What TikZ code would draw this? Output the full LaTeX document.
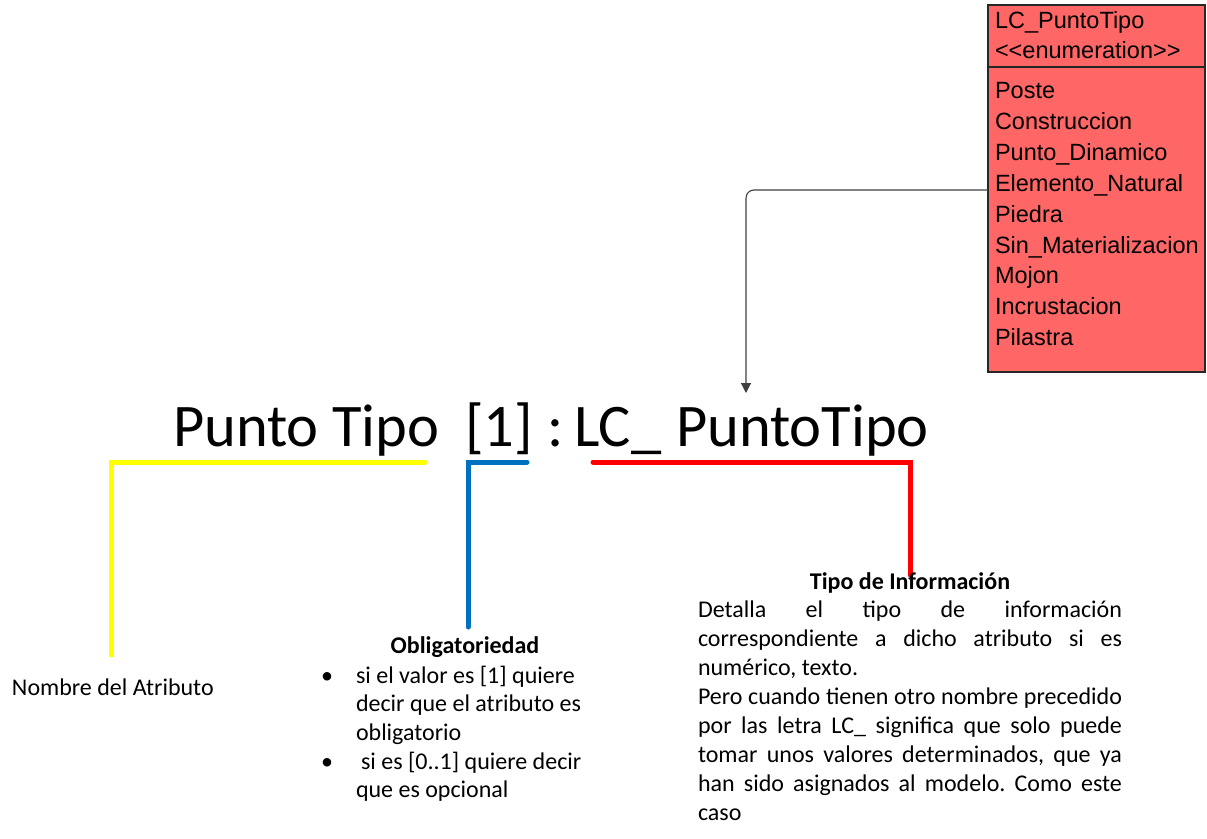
\documentclass[tikz,border=0pt]{standalone}
\usepackage{fontspec}
\setmainfont{Carlito}
\newfontfamily\umlfont{Liberation Sans}
\usetikzlibrary{arrows.meta}
\definecolor{umlred}{RGB}{255,102,102}
\definecolor{officeblue}{RGB}{0,112,192}
\definecolor{connc}{RGB}{64,64,64}
\definecolor{yell}{RGB}{255,255,0}
\begin{document}
\begin{tikzpicture}[x=1pt,y=-1pt,
  every node/.style={inner sep=0pt, outer sep=0pt},
  umltext/.style={anchor=base west, font=\umlfont\fontsize{23.5}{27}\selectfont},
  titletext/.style={anchor=base west, font=\fontsize{60.5}{72}\selectfont},
  body/.style={font=\fontsize{24}{29}\selectfont},
  bodybold/.style={font=\fontsize{24}{29}\selectfont\bfseries},
  bracket/.style={line width=5pt, line cap=round, line join=miter},
  connector/.style={draw=connc, line width=1.1pt, rounded corners=8pt, -{Triangle[length=10pt,width=10pt]}}
]
\useasboundingbox (0,0) rectangle (1207,838);

% UML enumeration box
\node[draw=black!85, fill=umlred, line width=1.5pt, minimum width=217pt, minimum height=367pt, anchor=north west] (enum) at (988,5) {};
\draw[black!85, line width=1.5pt] (enum.west |- 0,67) -- (enum.east |- 0,67);
\node[umltext] (ename) at (995,28) {LC\_PuntoTipo};
\node[umltext] (estereo) at (995,58) {<\kern0pt<enumeration>\kern0pt>};
\node[umltext] (i1) at (995,98.5) {Poste};
\node[umltext] (i2) at (995,129.4) {Construccion};
\node[umltext] (i3) at (995,160.3) {Punto\_Dinamico};
\node[umltext] (i4) at (995,191.2) {Elemento\_Natural};
\node[umltext] (i5) at (995,222.1) {Piedra};
\node[umltext] (i6) at (995,253) {Sin\_Materializacion};
\node[umltext] (i7) at (995,283.9) {Mojon};
\node[umltext] (i8) at (995,314.8) {Incrustacion};
\node[umltext] (i9) at (995,345.7) {Pilastra};

% Title
\node[titletext] (tnombre) at (173,446) {Punto Tipo};
\node[titletext] (tmult) at (465,446) {[1]};
\node[titletext] (tcolon) at (547,446) {:};
\node[titletext] (tlc) at (574,446) {LC\_};
\node[titletext] (ttipo) at (676,446) {PuntoTipo};

% Connector from enumeration to type
\coordinate (src) at (enum.west |- 0,190);
\coordinate (tip) at (746,393);
\draw[connector] (src) -| (tip);

% Brackets
\draw[bracket, yell] (425,462) -- (111,462) -- (111,655);
\draw[bracket, officeblue] (527,462) -- (468,462) -- (468,627);
\draw[bracket, red] (593,462) -- (910,462) -- (910,575);

% Nombre del atributo
\node[body, anchor=base west] (nombre) at (12,695) {Nombre del Atributo};

% Obligatoriedad
\node[bodybold, anchor=base] (oblig) at (465,653) {Obligatoriedad};
\node[body, anchor=base] (b1) at (327,683) {•};
\node[body, anchor=base] (b2) at (327,769) {•};
\node[font=\fontsize{24}{28.7}\selectfont, anchor=base west, align=left, text width=250pt] (obltext) at (356,683)
  {\rightskip=0pt plus 1fil\spaceskip=0pt\xspaceskip=0pt
   si el valor es [1] quiere\\decir que el atributo es\\obligatorio\\\hspace*{5pt}si es [0..1] quiere decir\\que es opcional};

% Tipo de informacion
\node[bodybold, anchor=base] (tinfo) at (910,589) {Tipo de Información};
\node[font=\fontsize{24}{29}\selectfont, anchor=base west, align=left, text width=424pt] (tinfotext) at (698,617)
  {\frenchspacing\spaceskip=0pt\xspaceskip=0pt\rightskip=0pt plus 1fil
   \makebox[424pt][s]{Detalla el tipo de información}\\
   \makebox[424pt][s]{correspondiente a dicho atributo si es}\\
   numérico, texto.\\
   \makebox[424pt][s]{Pero cuando tienen otro nombre precedido}\\
   \makebox[424pt][s]{por las letra LC\_ significa que solo puede}\\
   \makebox[424pt][s]{tomar unos valores determinados, que ya}\\
   \makebox[424pt][s]{han sido asignados al modelo. Como este}\\
   caso};
\end{tikzpicture}
\end{document}
